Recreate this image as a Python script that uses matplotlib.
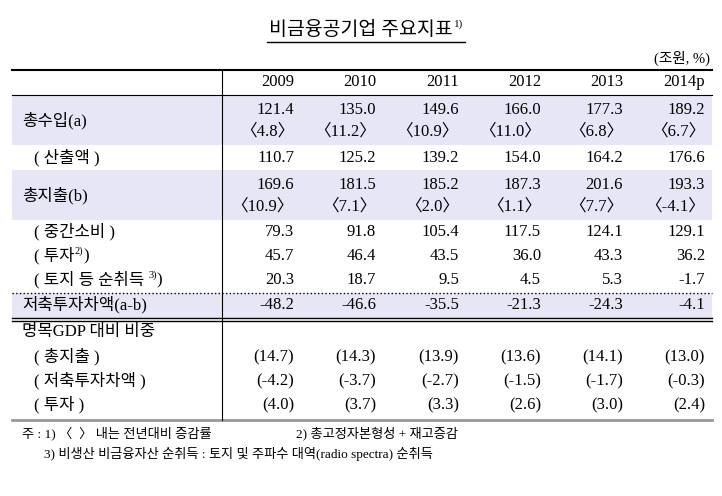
import matplotlib.pyplot as plt
from matplotlib.patches import Rectangle

plt.rcParams['font.family'] = ['Liberation Serif', 'Noto Sans CJK KR', 'DejaVu Sans']

years = ["2009", "2010", "2011", "2012", "2013", "2014p"]
row_labels = ["총수입(a)", "( 산출액 )", "총지출(b)", "( 중간소비 )", "( 투자",
              "( 토지 등 순취득 ", "저축투자차액(a-b)", "명목GDP 대비 비중",
              "( 총지출 )", "( 저축투자차액 )", "( 투자 )"]
label_sups = ["", "", "", "", "2)", "3)", "", "", "", "", ""]
revenue = ["121.4", "135.0", "149.6", "166.0", "177.3", "189.2"]
revenue_g = ["〈4.8〉", "〈11.2〉", "〈10.9〉", "〈11.0〉", "〈6.8〉", "〈6.7〉"]
output = ["110.7", "125.2", "139.2", "154.0", "164.2", "176.6"]
expend = ["169.6", "181.5", "185.2", "187.3", "201.6", "193.3"]
expend_g = ["〈10.9〉", "〈7.1〉", "〈2.0〉", "〈1.1〉", "〈7.7〉", "〈-4.1〉"]
interm = ["79.3", "91.8", "105.4", "117.5", "124.1", "129.1"]
invest = ["45.7", "46.4", "43.5", "36.0", "43.3", "36.2"]
land = ["20.3", "18.7", "9.5", "4.5", "5.3", "-1.7"]
gap = ["-48.2", "-46.6", "-35.5", "-21.3", "-24.3", "-4.1"]
gdp_exp = ["(14.7)", "(14.3)", "(13.9)", "(13.6)", "(14.1)", "(13.0)"]
gdp_gap = ["(-4.2)", "(-3.7)", "(-2.7)", "(-1.5)", "(-1.7)", "(-0.3)"]
gdp_inv = ["(4.0)", "(3.7)", "(3.3)", "(2.6)", "(3.0)", "(2.4)"]

col_x = [294, 376, 459, 541, 623, 705]
L, R, VX = 12, 712, 222
FS = 12
shade = '#e6e6f6'

fig = plt.figure(figsize=(7.22, 4.96), dpi=100)
ax = fig.add_axes([0, 0, 1, 1])
ax.set_xlim(0, 722)
ax.set_ylim(496, 0)
ax.axis('off')
renderer = fig.canvas.get_renderer()


def text_with_sup(x, y, s, sup, fs, ha='left'):
    t = ax.text(x, y, s, ha=ha, va='center', fontsize=fs)
    if sup:
        bb = t.get_window_extent(renderer)
        x_end = bb.x1  # pixel == data x since axes spans figure
        ax.text(x_end, y - 5, sup, ha='left', va='center', fontsize=fs * 0.6)
        w = ax.text(x_end + fs * 0.6 * 0.8, y, "", fontsize=fs)
        return x_end + fs * 0.6 * 1.0
    return None


for y0, y1 in [(95, 145), (170, 220), (293, 318)]:
    ax.add_patch(Rectangle((L, y0), R - L, y1 - y0, color=shade, lw=0))

# title
t = ax.text(361, 30, "비금융공기업 주요지표", ha='center', va='center', fontsize=14)
bb = t.get_window_extent(renderer)
ax.text(bb.x1 + 1, 24, "1)", ha='left', va='center', fontsize=8)
ax.plot([bb.x0 - 2, bb.x1 + 12], [42, 42], color='black', lw=1)
ax.text(R - 2, 58, "(조원, %)", ha='right', va='center', fontsize=10.5)

ax.plot([L, R], [70, 70], color='black', lw=1.5)
ax.plot([L, R], [95, 95], color='black', lw=0.8)
ax.plot([L, R], [293, 293], color='black', lw=1, ls=':')
ax.plot([L, R], [318, 318], color='black', lw=1)
ax.plot([L, R], [321, 321], color='black', lw=1)
ax.plot([L, R], [420, 420], color='#999999', lw=2)
ax.plot([VX, VX], [70, 420], color='black', lw=0.8)

for x, yr in zip(col_x, years):
    ax.text(x, 82, yr, ha='right', va='center', fontsize=FS)


def row(y, vals):
    for x, v in zip(col_x, vals):
        ax.text(x, y, v, ha='right', va='center', fontsize=FS)


label_y = [121, 158, 196, 232, 256, 280, 305, 332, 357, 381, 405]
label_x = [22, 34, 22, 34, 34, 34, 22, 22, 34, 34, 34]
for lx, ly, lab, sup in zip(label_x, label_y, row_labels, label_sups):
    t = ax.text(lx, ly, lab, ha='left', va='center', fontsize=FS)
    if sup:
        bb = t.get_window_extent(renderer)
        s = ax.text(bb.x1, ly - 5, sup, ha='left', va='center', fontsize=7.5)
        bb2 = s.get_window_extent(renderer)
        ax.text(bb2.x1, ly, ")", ha='left', va='center', fontsize=FS)

row(110, revenue)
row(132, revenue_g)
row(158, output)
row(185, expend)
row(207, expend_g)
row(232, interm)
row(256, invest)
row(280, land)
row(305, gap)
row(357, gdp_exp)
row(381, gdp_gap)
row(405, gdp_inv)

ax.text(22, 433, "주 : 1) 〈  〉 내는 전년대비 증감률", ha='left', va='center', fontsize=9.5)
ax.text(296, 433, "2) 총고정자본형성 + 재고증감", ha='left', va='center', fontsize=9.5)
ax.text(44, 454, "3) 비생산 비금융자산 순취득 : 토지 및 주파수 대역(radio spectra) 순취득",
        ha='left', va='center', fontsize=9.5)

fig.savefig("out.png", dpi=100)
